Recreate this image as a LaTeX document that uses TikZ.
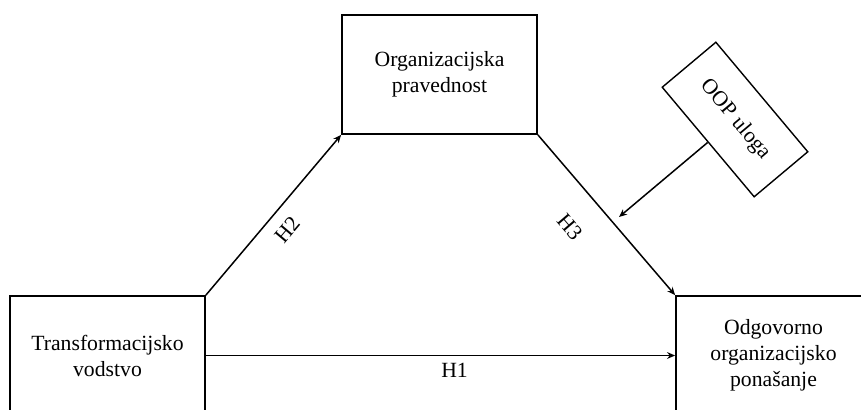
\documentclass[tikz,border=0pt]{standalone}
\usepackage{fontspec}
\setmainfont{Liberation Serif}
\usetikzlibrary{arrows.meta}
\tikzstyle{box}=[draw,rectangle,line width=0.9pt,minimum width=97.5pt,minimum height=59.5pt,align=center,inner sep=2pt]
\tikzstyle{modbox}=[draw,rectangle,line width=0.7pt,minimum width=71.5pt,minimum height=35pt,align=center]
\tikzstyle{link}=[->,line width=0.75pt]

\begin{document}
\begin{tikzpicture}[x=0.5pt,y=0.5pt,font=\fontsize{10.85}{13}\selectfont,>={Stealth[length=4pt,width=3.4pt]}]
    \path[use as bounding box,clip] (0,0) rectangle (861,409);

    \foreach \pos/\name/\txt in {{(107.5,53.5)/vodstvo/{Transformacijsko\\vodstvo}}, {(439.5,334.5)/pravednost/{Organizacijska\\pravednost}}, {(773.5,53.5)/ponasanje/{Odgovorno\\organizacijsko\\ponašanje}}}
        \node[box] (\name) at \pos {\txt};

    % moderator
    \node[modbox,rotate=-50] (uloga) at (735,289.5) {OOP uloga};
    \coordinate (moderacija) at (619,192);

    \draw[link] (vodstvo) -- node[below,pos=0.53]{H1} (ponasanje);
    \draw[link] (vodstvo.north east) -- node[sloped,below=2.5pt,pos=0.49]{H2} (pravednost.south west);
    \draw[link] (pravednost.south east) -- node[sloped,below=10.5pt,pos=0.43]{H3} (ponasanje.north west);
    \draw[link] (uloga.south) -- (moderacija);

\end{tikzpicture}
\end{document}
